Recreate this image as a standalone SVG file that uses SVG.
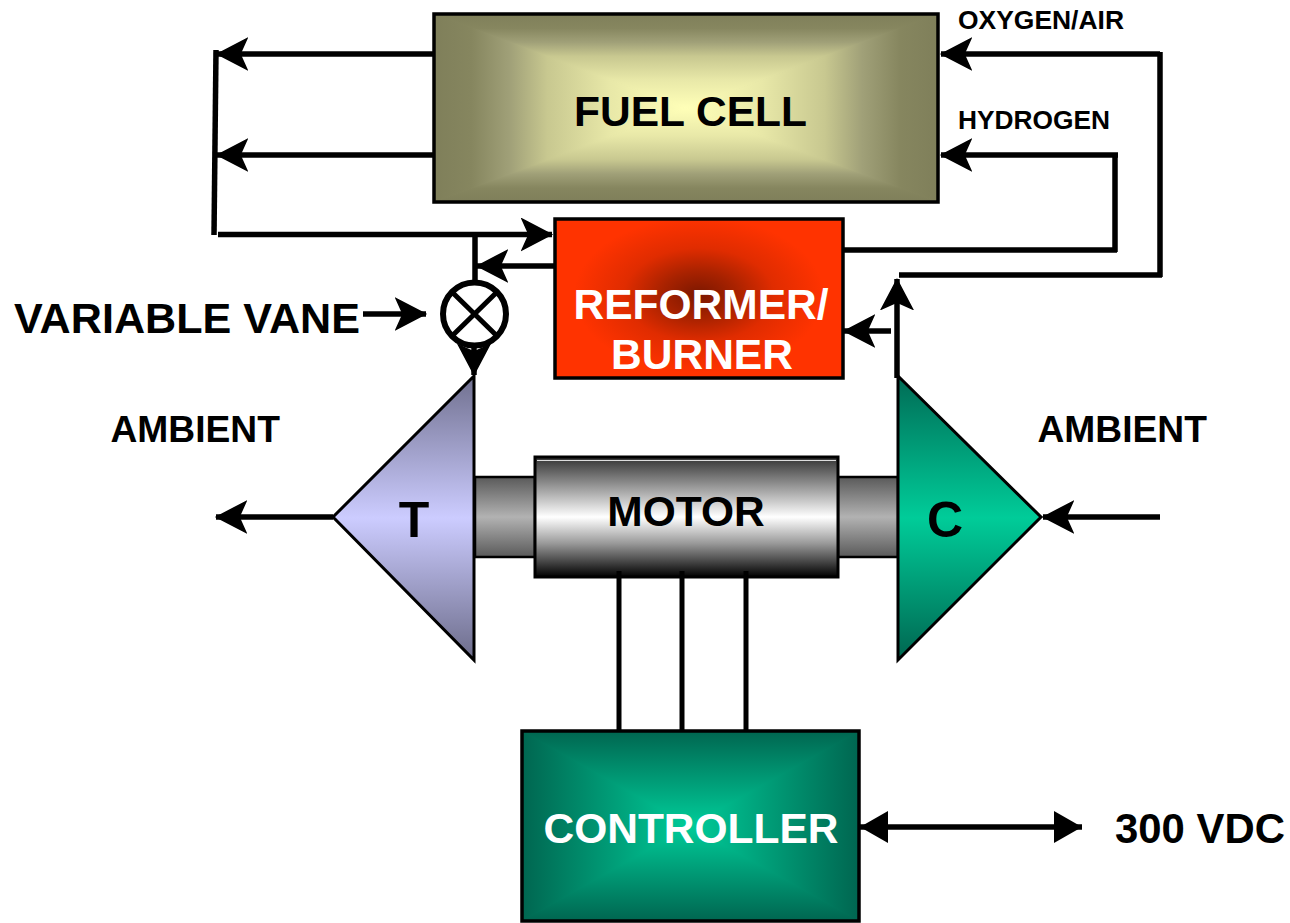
<svg xmlns="http://www.w3.org/2000/svg" width="1290" height="923" viewBox="0 0 1290 923">
<style>
text{font-family:"Liberation Sans",Arial,sans-serif;font-weight:700;fill:#000}
.w{fill:#fff}
.m{text-anchor:middle}
.box{fill:none;stroke:#000;stroke-width:3.500}
.ln{fill:none;stroke:#000;stroke-width:5.500}
.wire{fill:none;stroke:#000;stroke-width:5}
.a{marker-end:url(#arr)}
.d{marker-start:url(#tri2);marker-end:url(#tri)}
.s{stroke-width:1}
.f0{stop-color:#7f7f5a}.f1{stop-color:#86865f}.f2{stop-color:#a0a078}.f3{stop-color:#c8c890}.f4{stop-color:#e8e8a8}.f5{stop-color:#ffffb8}
.c0{stop-color:#006650}.c1{stop-color:#00cc99}
</style>
<defs>
<marker id="arr" markerUnits="userSpaceOnUse" markerWidth="34" markerHeight="36" refX="31" refY="17" orient="auto"><path d="M30.500 17L1 1.500L8 17L1 32.500Z" fill="#000" stroke="#000" stroke-width="1.500"/></marker>
<marker id="tri" markerUnits="userSpaceOnUse" markerWidth="30" markerHeight="34" refX="28" refY="16" orient="auto"><path d="M28 16L0 0V32Z" fill="#000"/></marker>
<marker id="tri2" markerUnits="userSpaceOnUse" markerWidth="30" markerHeight="34" refX="0" refY="16" orient="auto"><path d="M0 16L28 0V32Z" fill="#000"/></marker>
<linearGradient id="fT" gradientUnits="userSpaceOnUse" x1="0" y1="14" x2="0" y2="108"><stop offset="0" class="f0"/><stop offset=".15" class="f1"/><stop offset=".3" class="f2"/><stop offset=".45" class="f3"/><stop offset=".7" class="f4"/><stop offset="1" class="f5"/></linearGradient>
<linearGradient id="fB" gradientUnits="userSpaceOnUse" x1="0" y1="202" x2="0" y2="108"><stop offset="0" class="f0"/><stop offset=".15" class="f1"/><stop offset=".3" class="f2"/><stop offset=".45" class="f3"/><stop offset=".7" class="f4"/><stop offset="1" class="f5"/></linearGradient>
<linearGradient id="fL" gradientUnits="userSpaceOnUse" x1="434" y1="0" x2="686" y2="0"><stop offset="0" class="f0"/><stop offset=".15" class="f1"/><stop offset=".3" class="f2"/><stop offset=".45" class="f3"/><stop offset=".7" class="f4"/><stop offset="1" class="f5"/></linearGradient>
<linearGradient id="fR" gradientUnits="userSpaceOnUse" x1="938" y1="0" x2="686" y2="0"><stop offset="0" class="f0"/><stop offset=".15" class="f1"/><stop offset=".3" class="f2"/><stop offset=".45" class="f3"/><stop offset=".7" class="f4"/><stop offset="1" class="f5"/></linearGradient>
<radialGradient id="rG" gradientUnits="userSpaceOnUse" cx="0" cy="0" r="1" gradientTransform="translate(699 295) scale(125 78)"><stop offset="0" stop-color="#7a1700"/><stop offset=".3" stop-color="#a82200"/><stop offset=".6" stop-color="#e02c00"/><stop offset="1" stop-color="#ff3300"/></radialGradient>
<linearGradient id="cT" gradientUnits="userSpaceOnUse" x1="0" y1="731" x2="0" y2="826"><stop offset="0" class="c0"/><stop offset="1" class="c1"/></linearGradient>
<linearGradient id="cB" gradientUnits="userSpaceOnUse" x1="0" y1="921" x2="0" y2="826"><stop offset="0" class="c0"/><stop offset="1" class="c1"/></linearGradient>
<linearGradient id="cL" gradientUnits="userSpaceOnUse" x1="522" y1="0" x2="690" y2="0"><stop offset="0" class="c0"/><stop offset="1" class="c1"/></linearGradient>
<linearGradient id="cR" gradientUnits="userSpaceOnUse" x1="859" y1="0" x2="690" y2="0"><stop offset="0" class="c0"/><stop offset="1" class="c1"/></linearGradient>
<linearGradient id="tur" x1="0" y1="0" x2="0" y2="1"><stop offset="0" stop-color="#70708f"/><stop offset=".5" stop-color="#ccccff"/><stop offset="1" stop-color="#6c6c8a"/></linearGradient>
<linearGradient id="com" x1="0" y1="0" x2="0" y2="1"><stop offset="0" stop-color="#006b55"/><stop offset=".5" stop-color="#00cc99"/><stop offset="1" stop-color="#006650"/></linearGradient>
<linearGradient id="sh" x1="0" y1="0" x2="0" y2="1"><stop offset="0" stop-color="#5a5a5a"/><stop offset=".5" stop-color="#b2b2b2"/><stop offset="1" stop-color="#5a5a5a"/></linearGradient>
<linearGradient id="mo" x1="0" y1="0" x2="0" y2="1"><stop offset="0" stop-color="#333"/><stop offset=".5" stop-color="#fff"/><stop offset=".72" stop-color="#999"/><stop offset="1" stop-color="#000"/></linearGradient>
</defs>

<g id="connectors">
<path class="ln a" d="M434 54H217"/>
<path class="ln a" d="M434 155H217"/>
<path class="ln" d="M216 50L214 235"/>
<path class="ln a" d="M218 234.500H552"/>
<path class="ln" d="M475 232V285"/>
<path class="ln a" d="M555 266H477"/>
<path class="ln a" d="M363 314H426"/>
<path class="ln a" d="M474 345V375"/>
<path class="ln a" d="M1160 54H941"/>
<path class="ln" d="M1160 52V277M1162 275H899"/>
<path class="ln a" d="M1118 155H941"/>
<path class="ln" d="M1115 153V252M1117 250H843"/>
<path class="ln a" d="M897 378V279"/>
<path class="ln a" d="M891 331H844"/>
<path class="ln a" d="M333 517H216"/>
<path class="ln a" d="M1160 517H1043"/>
<path class="ln d" d="M860 827H1082"/>
</g>

<g id="fuel-cell">
<rect x="434" y="14" width="504" height="188" fill="#a0a078"/>
<polygon class="s" points="434,14 938,14 686,108" fill="url(#fT)" stroke="url(#fT)"/>
<polygon class="s" points="434,202 938,202 686,108" fill="url(#fB)" stroke="url(#fB)"/>
<polygon class="s" points="434,14 434,202 686,108" fill="url(#fL)" stroke="url(#fL)"/>
<polygon class="s" points="938,14 938,202 686,108" fill="url(#fR)" stroke="url(#fR)"/>
<rect class="box" x="434" y="14" width="504" height="188"/>
<text class="m" x="690.500" y="126" font-size="42.500">FUEL CELL</text>
</g>

<g id="reformer">
<rect x="555" y="219" width="288" height="159" fill="url(#rG)"/>
<rect class="box" x="555" y="219" width="288" height="159"/>
<text class="w m" x="701" y="319" font-size="42.500">REFORMER/</text>
<text class="w m" x="702" y="369" font-size="42.500">BURNER</text>
</g>

<g id="vane">
<circle cx="474.500" cy="314" r="31.500" fill="#fff" stroke="#000" stroke-width="6"/>
<path class="wire" d="M452 292L497 336M497 292L452 336"/>
</g>

<g id="turbine">
<polygon points="474,376 333,517 474,660" fill="url(#tur)" stroke="#000" stroke-width="3"/>
<text class="m" x="414" y="537" font-size="50">T</text>
</g>

<g id="shafts">
<rect x="475" y="477" width="60" height="80" fill="url(#sh)" stroke="#000" stroke-width="2.500"/>
<rect x="838" y="477" width="60" height="80" fill="url(#sh)" stroke="#000" stroke-width="2.500"/>
</g>

<g id="motor">
<rect x="535" y="457" width="303" height="120" fill="url(#mo)" stroke="#000" stroke-width="3"/>
<path d="M537 460.500H836" stroke="#ddd" stroke-width="1" fill="none"/>
<text class="m" x="686" y="526" font-size="42.500">MOTOR</text>
</g>

<g id="compressor">
<polygon points="898,376 1041,517 898,660" fill="url(#com)" stroke="#000" stroke-width="3"/>
<text class="m" x="945" y="537" font-size="50">C</text>
</g>

<g id="wires">
<path class="wire" d="M619 571V731M682 571V731M746 571V731"/>
</g>

<g id="controller">
<rect x="522" y="731" width="337" height="190" fill="#009977"/>
<polygon class="s" points="522,731 859,731 690,826" fill="url(#cT)" stroke="url(#cT)"/>
<polygon class="s" points="522,921 859,921 690,826" fill="url(#cB)" stroke="url(#cB)"/>
<polygon class="s" points="522,731 522,921 690,826" fill="url(#cL)" stroke="url(#cL)"/>
<polygon class="s" points="859,731 859,921 690,826" fill="url(#cR)" stroke="url(#cR)"/>
<rect class="box" x="522" y="731" width="337" height="190"/>
<text class="w m" x="691" y="843" font-size="42.500">CONTROLLER</text>
</g>

<g id="labels">
<text x="958" y="29" font-size="26" textLength="166" lengthAdjust="spacingAndGlyphs">OXYGEN/AIR</text>
<text x="958" y="129" font-size="26" textLength="152" lengthAdjust="spacingAndGlyphs">HYDROGEN</text>
<text x="14" y="333" font-size="43" textLength="346" lengthAdjust="spacingAndGlyphs">VARIABLE VANE</text>
<text x="110.500" y="442" font-size="37.200">AMBIENT</text>
<text x="1037.500" y="442" font-size="37.200">AMBIENT</text>
<text x="1115" y="843" font-size="42" textLength="170" lengthAdjust="spacingAndGlyphs">300 VDC</text>
</g>
</svg>
